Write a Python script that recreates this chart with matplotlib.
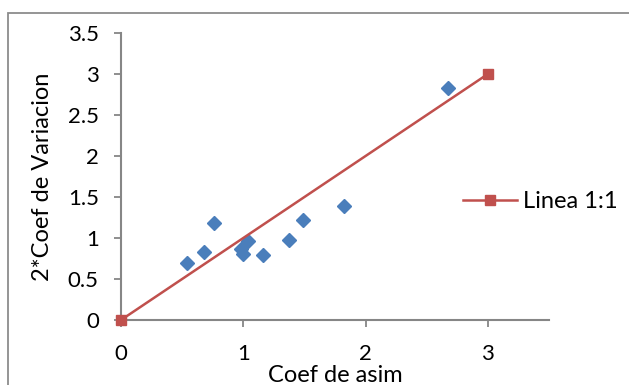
import matplotlib
matplotlib.use("Agg")
import matplotlib.pyplot as plt
from matplotlib.patches import Rectangle

# Observed values
coef_asim = [0.54, 0.68, 0.76, 0.98, 1.00, 1.04, 1.16, 1.37, 1.49, 1.82, 2.67]
coef_var2 = [0.70, 0.83, 1.18, 0.87, 0.81, 0.96, 0.79, 0.98, 1.22, 1.39, 2.83]

# Reference 1:1 line
line_x = [0, 3]
line_y = [0, 3]

x_ticks = [0, 1, 2, 3]
y_ticks = [0, 0.5, 1, 1.5, 2, 2.5, 3, 3.5]
y_tick_labels = ["0", "0.5", "1", "1.5", "2", "2.5", "3", "3.5"]

W, H = 629, 385
plt.rcParams["font.family"] = ["Lato", "DejaVu Sans"]

fig = plt.figure(figsize=(W / 100, H / 100), dpi=100)
fig.patch.set_facecolor("white")

# chart frame
fig.add_artist(Rectangle((8 / W, -0.1), 1.2, (H - 13) / H + 0.1,
                         transform=fig.transFigure, fill=False,
                         edgecolor="#8c8c8c", lw=1.3))

ax = fig.add_axes([121 / W, 65 / H, (549 - 121) / W, (320 - 33) / H])
ax.set_xlim(0, 3.5)
ax.set_ylim(0, 3.5)

blue = "#4a7ebb"
red = "#c0504d"
axis_gray = "#868686"

ax.plot(coef_asim, coef_var2, linestyle="none", marker="D", markersize=7,
        color=blue, markeredgecolor=blue, clip_on=False, zorder=3)
ax.plot(line_x, line_y, color=red, lw=1.8, marker="s", markersize=6.5,
        markeredgecolor=red, clip_on=False, zorder=4, label="Linea 1:1")

for side in ("top", "right"):
    ax.spines[side].set_visible(False)
for side in ("left", "bottom"):
    ax.spines[side].set_color(axis_gray)
    ax.spines[side].set_linewidth(1.5)

ax.set_xticks(x_ticks)
ax.set_xticklabels([str(t) for t in x_ticks])
ax.set_yticks(y_ticks)
ax.set_yticklabels(y_tick_labels)
ax.tick_params(axis="both", colors=axis_gray, width=1.3, length=5,
               labelcolor="black", labelsize=16)
ax.tick_params(axis="x", pad=12)
ax.tick_params(axis="y", pad=11)

fig.text(335 / W, 1 - 382 / H, "Coef de asim", ha="center", va="baseline",
         fontsize=17)
fig.text(43 / W, 1 - 177 / H, "2*Coef de Variacion", ha="center",
         va="center", rotation=90, fontsize=17)

leg = ax.legend(loc="center left", bbox_to_anchor=(463 / W, 1 - 202 / H),
                bbox_transform=fig.transFigure, frameon=False, fontsize=17,
                handlelength=2.3, handletextpad=0.25, borderpad=0,
                borderaxespad=0)

fig.savefig("out.png", dpi=100, facecolor="white")
